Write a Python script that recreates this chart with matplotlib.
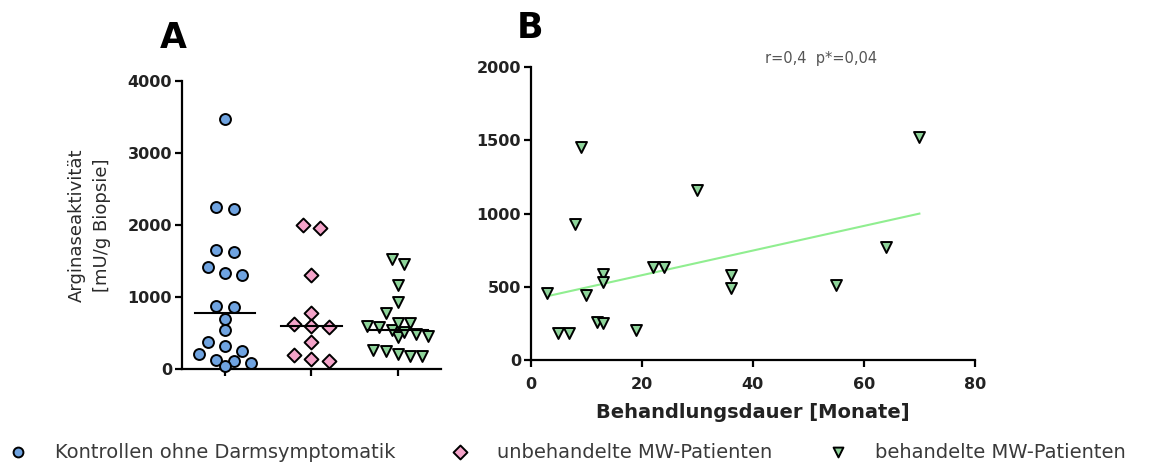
import numpy as np
import matplotlib
matplotlib.use('Agg')
import matplotlib.pyplot as plt

plt.rcParams['font.family'] = ['DejaVu Sans']

# Werte
kontrollen = [3470, 2250, 2222, 1648, 1620, 1412, 1333, 1305, 870, 860,
              700, 537, 375, 315, 245, 213, 130, 106, 83, 37]
unbehandelt = [2005, 1958, 1300, 778, 630, 602, 583, 375, 200, 139, 106]

# behandelte Patienten: Behandlungsdauer (Monate) und Arginaseaktivitaet
dauer = [3, 5, 7, 8, 9, 10, 12, 13, 13, 13, 19, 22, 24, 30, 36, 36, 55, 64, 70]
behandelt = [455, 182, 182, 932, 1455, 443, 261, 250, 590, 534, 205,
             636, 636, 1160, 580, 489, 511, 773, 1523]

fit_x = [3, 70]
fit_y = [436, 1000]

gruppen = ['Kontrollen ohne Darmsymptomatik', 'unbehandelte MW-Patienten',
           'behandelte MW-Patienten']
farben = ['#6fa3e0', '#f4a3c9', '#8ed49a']
marker = ['o', 'D', 'v']
spalten = [17, 17, 12]  # Abstand der Punkte in einer Reihe (px)


def swarm(vals, px_x, px_y, row_h=10.0, col_w=14.0):
    # Punkte in Reihen gleicher Hoehe gruppieren und symmetrisch verteilen
    vals = np.asarray(vals, float)
    off = np.zeros(len(vals))
    order = list(np.argsort(-vals))
    while order:
        top = vals[order[0]] * px_y
        row = [i for i in order if top - vals[i] * px_y < row_h]
        n = len(row)
        for j, i in enumerate(row):
            off[i] = (j - (n - 1) / 2) * col_w / px_x
        order = [i for i in order if i not in row]
    return off


fig = plt.figure(figsize=(11.51, 4.70), dpi=100)

# ---------- A ----------
axA = fig.add_axes([0.158, 0.215, 0.225, 0.613])
daten = [kontrollen, unbehandelt, behandelt]
for i, werte in enumerate(daten):
    xs = i + swarm(werte, 85.5, 288 / 4000, col_w=spalten[i])
    axA.scatter(xs, werte, s=62 if marker[i] != 'D' else 50, marker=marker[i],
                facecolor=farben[i], edgecolor='black', linewidth=1.4,
                zorder=3, clip_on=False)
    med = np.median(werte)
    axA.plot([i - 0.35, i + 0.35], [med, med], color='black', lw=1.5, zorder=4)

axA.set_xlim(-0.5, 2.5)
axA.set_ylim(0, 4000)
axA.set_xticks([0, 1, 2])
axA.set_xticklabels([])
axA.set_yticks([0, 1000, 2000, 3000, 4000])
axA.set_ylabel('Arginaseaktivität\n[mU/g Biopsie]', fontsize=13,
               color='#2a2a2a', linespacing=1.45)
axA.yaxis.set_label_coords(-0.275, 0.5)

# ---------- B ----------
axB = fig.add_axes([0.461, 0.234, 0.386, 0.623])
axB.scatter(dauer, behandelt, s=62, marker='v', facecolor=farben[2],
            edgecolor='black', linewidth=1.4, zorder=3, clip_on=False)
axB.plot(fit_x, fit_y, color='#90ee90', lw=1.5, zorder=2)
axB.set_xlim(0, 80)
axB.set_ylim(0, 2000)
axB.set_xticks([0, 20, 40, 60, 80])
axB.set_yticks([0, 500, 1000, 1500, 2000])
axB.set_xlabel('Behandlungsdauer [Monate]', fontsize=14, fontweight='bold',
               labelpad=8, color='#222222')
axB.text(821 / 1151, 1 - 58 / 470, 'r=0,4  p*=0,04', transform=fig.transFigure,
         fontsize=10.5, color='#555555', ha='center', va='center')

for ax in (axA, axB):
    for s in ('top', 'right'):
        ax.spines[s].set_visible(False)
    for s in ('left', 'bottom'):
        ax.spines[s].set_linewidth(1.6)
    ax.tick_params(direction='out', length=5, width=1.6, labelsize=11.5,
                   pad=2, labelcolor='#222222')
    for lab in ax.get_yticklabels() + ax.get_xticklabels():
        lab.set_fontweight('bold')
axB.tick_params(axis='x', pad=7)

fig.text(173 / 1151, 1 - 38 / 470, 'A', fontsize=25, fontweight='bold',
         ha='center', va='center')
fig.text(530 / 1151, 1 - 28 / 470, 'B', fontsize=25, fontweight='bold',
         ha='center', va='center')

# Legende unten: drei einzelne Eintraege
fs = 14
hl = 1.0
em = fs * 100 / 72
marker_px = [18, 460, 838]
text_px = [55, 497, 875]
for m, c, g, mx, tx in zip(marker, farben, gruppen, marker_px, text_px):
    h = axA.scatter([], [], s=50, marker=m, facecolor=c, edgecolor='black',
                    linewidth=1.4)
    left = mx - hl * em / 2
    pad = (tx - left - hl * em) / em
    leg = fig.legend([h], [g], loc='center left', frameon=False,
                     bbox_to_anchor=(left / 1151, 1 - 452 / 470), fontsize=fs,
                     handlelength=hl, handletextpad=pad, borderaxespad=0,
                     borderpad=0)
    for t in leg.get_texts():
        t.set_color('#3a3a3a')

fig.savefig('out.png', dpi=100)
